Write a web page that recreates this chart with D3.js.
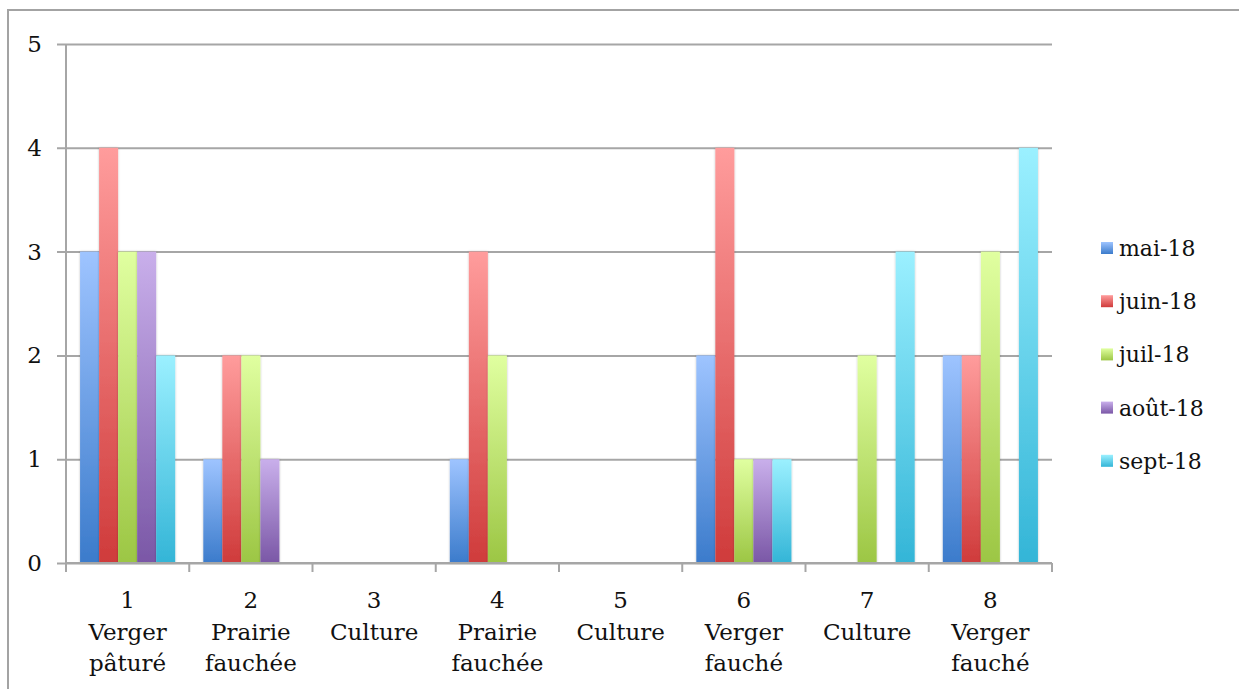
<!DOCTYPE html>
<html>
<head>
<meta charset="utf-8">
<script src="https://cdn.jsdelivr.net/npm/d3@7"></script>
<style>
  html, body { margin: 0; padding: 0; background: #fff; }
  svg { display: block; }
</style>
</head>
<body>
<svg id="chart" width="1239" height="689"></svg>
<script>
// Sites (number + habitat) and monthly counts
const siteNumbers = ["1", "2", "3", "4", "5", "6", "7", "8"];
const siteHabitats = [
  ["Verger", "pâturé"],
  ["Prairie", "fauchée"],
  ["Culture"],
  ["Prairie", "fauchée"],
  ["Culture"],
  ["Verger", "fauché"],
  ["Culture"],
  ["Verger", "fauché"]
];
const months = ["mai-18", "juin-18", "juil-18", "août-18", "sept-18"];
const mai18  = [3, 1, 0, 1, 0, 2, 0, 2];
const juin18 = [4, 2, 0, 3, 0, 4, 0, 2];
const juil18 = [3, 2, 0, 2, 0, 1, 2, 3];
const aout18 = [3, 1, 0, 0, 0, 1, 0, 0];
const sept18 = [2, 0, 0, 0, 0, 1, 3, 4];
const yTicks = [0, 1, 2, 3, 4, 5];

const seriesValues = [mai18, juin18, juil18, aout18, sept18];

// Gradient stops per month (top, bottom)
const gradients = [
  ["#9ec4ff", "#3b7bcb"],
  ["#ff9c9c", "#cf3b3b"],
  ["#e0ffa0", "#9cc644"],
  ["#c9afeb", "#7a57a6"],
  ["#9bf0ff", "#33b5d7"]
];

const svg = d3.select("#chart");
const plotLeft = 66, plotRight = 1052, plotTop = 44, plotBottom = 563;
const font = "'DejaVu Serif', serif";
const gridColor = "#a6a6a6";

// Outer frame (only top and left edges fall inside the view)
svg.append("rect")
  .attr("x", 8).attr("y", 10)
  .attr("width", 1300).attr("height", 800)
  .attr("fill", "none").attr("stroke", "#a3a3a3").attr("stroke-width", 2);

const defs = svg.append("defs");
gradients.forEach((g, i) => {
  const lg = defs.append("linearGradient")
    .attr("id", "grad" + i)
    .attr("x1", 0).attr("y1", 0).attr("x2", 0).attr("y2", 1);
  lg.append("stop").attr("offset", "0%").attr("stop-color", g[0]);
  lg.append("stop").attr("offset", "100%").attr("stop-color", g[1]);
});
const shadow = defs.append("filter").attr("id", "barShadow")
  .attr("x", "-30%").attr("y", "-5%").attr("width", "160%").attr("height", "110%");
shadow.append("feDropShadow")
  .attr("dx", 0).attr("dy", 0).attr("stdDeviation", 1.2)
  .attr("flood-color", "#000").attr("flood-opacity", 0.25);

const y = d3.scaleLinear().domain([0, 5]).range([plotBottom, plotTop]);
const x0 = d3.scaleBand().domain(siteNumbers).range([plotLeft, plotRight]).padding(0);
const x1 = d3.scaleBand().domain(months).range([0, x0.bandwidth()])
  .paddingInner(0).paddingOuter(0.74);

// Horizontal grid lines with left ticks
const yAxis = d3.axisLeft(y).tickValues(yTicks).tickSize(-(plotRight - plotLeft)).tickFormat("");
const gy = svg.append("g").attr("transform", `translate(${plotLeft},0)`).call(yAxis);
gy.select(".domain").remove();
gy.selectAll(".tick line")
  .attr("x1", -9)
  .attr("stroke", gridColor).attr("stroke-width", 2);

// Y tick labels
svg.append("g").selectAll("text").data(yTicks).join("text")
  .attr("x", 42).attr("y", d => y(d) + 8)
  .attr("text-anchor", "end")
  .attr("font-family", font).attr("font-size", 23).attr("fill", "#111")
  .text(d => d);

// Vertical axis line
svg.append("line")
  .attr("x1", plotLeft).attr("x2", plotLeft).attr("y1", plotTop).attr("y2", plotBottom + 1)
  .attr("stroke", gridColor).attr("stroke-width", 2);

// Bars
const groups = svg.append("g").selectAll("g").data(siteNumbers).join("g")
  .attr("transform", d => `translate(${x0(d)},0)`);
groups.selectAll("rect")
  .data((d, i) => months.map((m, s) => ({ m, s, v: seriesValues[s][i] })).filter(e => e.v > 0))
  .join("rect")
  .attr("x", e => x1(e.m))
  .attr("width", x1.bandwidth())
  .attr("y", e => y(e.v))
  .attr("height", e => y(0) - y(e.v))
  .attr("fill", e => `url(#grad${e.s})`)
  .attr("filter", "url(#barShadow)");

// X axis baseline and category boundary ticks
const xBounds = siteNumbers.map(d => x0(d)).concat([plotRight]);
svg.append("line")
  .attr("x1", plotLeft).attr("x2", plotRight).attr("y1", plotBottom).attr("y2", plotBottom)
  .attr("stroke", gridColor).attr("stroke-width", 2);
svg.append("g").selectAll("line").data(xBounds).join("line")
  .attr("x1", d => d).attr("x2", d => d)
  .attr("y1", plotBottom).attr("y2", plotBottom + 9)
  .attr("stroke", gridColor).attr("stroke-width", 2);

// Category labels
const labels = svg.append("g").selectAll("text").data(siteNumbers).join("text")
  .attr("text-anchor", "middle")
  .attr("font-family", font).attr("font-size", 23).attr("fill", "#111");
labels.each(function (d, i) {
  const t = d3.select(this);
  const cx = x0(d) + x0.bandwidth() / 2;
  [d].concat(siteHabitats[i]).forEach((line, k) => {
    t.append("tspan").attr("x", cx).attr("y", 608 + k * 31.5).text(line);
  });
});

// Legend
const legend = svg.append("g").selectAll("g").data(months).join("g")
  .attr("transform", (d, i) => `translate(1101, ${248 + i * 53.2})`);
legend.append("rect")
  .attr("x", 0).attr("y", -6).attr("width", 12).attr("height", 12)
  .attr("fill", (d, i) => `url(#grad${i})`);
legend.append("text")
  .attr("x", 18).attr("y", 8)
  .attr("font-family", font).attr("font-size", 22).attr("fill", "#111")
  .text(d => d);
</script>
</body>
</html>
